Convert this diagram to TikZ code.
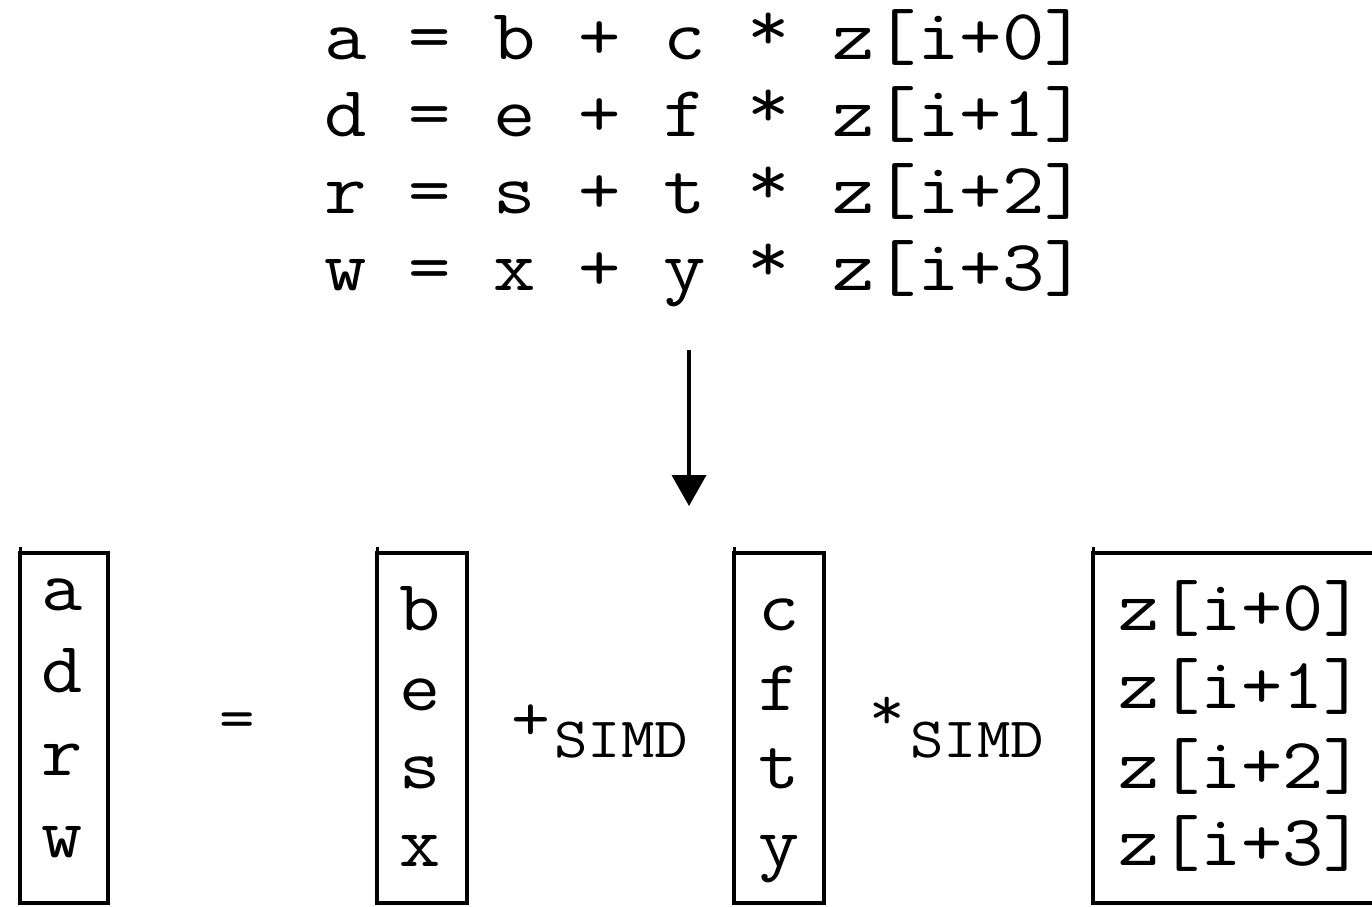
\documentclass[tikz,border=0pt]{standalone}
\usepackage{fontspec}
\usetikzlibrary{arrows.meta}

% typewriter text, slightly widened
\newcommand\widetype[2][1.11]{\scalebox{#1}[1]{#2}}
% raised asterisk, as in a Courier face
\newcommand\hiast{\raisebox{9pt}{*}}

\begin{document}
\begin{tikzpicture}[x=1pt,y=-1pt]
\tikzset{
  mono/.style={inner sep=0pt, outer sep=0pt, font=\fontsize{#1}{#1}\selectfont\ttfamily},
  mono/.default=72,
  vec/.style={draw, line width=4pt, inner sep=0pt, outer sep=0pt,
              minimum width=90pt, minimum height=350pt},
  tick/.style={line width=3pt},
  flow/.style={line width=4pt, -{Triangle[width=34pt,length=31pt]}},
}
\path[use as bounding box, fill=white] (0,0) rectangle (1372,906);

% scalar statements
\node[mono, anchor=base west] (row1) at (324,59)  {\widetype[1.143]{a = b + c \hiast{} z[i+0]}};
\node[mono, anchor=base west] (row2) at (324,136) {\widetype[1.143]{d = e + f \hiast{} z[i+1]}};
\node[mono, anchor=base west] (row3) at (324,213) {\widetype[1.143]{r = s + t \hiast{} z[i+2]}};
\node[mono, anchor=base west] (row4) at (324,290) {\widetype[1.143]{w = x + y \hiast{} z[i+3]}};

% transformation arrow
\coordinate (arrowfrom) at (689,350);
\coordinate (arrowto) at (689,506);
\draw[flow] (arrowfrom) -- (arrowto);

% vector registers
\node[vec, minimum width=88pt] (vecA) at (64,728) {};
\node[vec] (vecB) at (422,728) {};
\node[vec] (vecC) at (779,728) {};
\node[vec, minimum width=320pt, anchor=north west] (vecZ) at (1093,553) {};
\foreach \v in {vecA,vecB,vecC,vecZ}
  \draw[tick] (\v.north west) -- ++(0,-6);

% register contents
\node[mono, anchor=base] (a) at (62,610) {\widetype{a}};
\node[mono, anchor=base] (d) at (62,692) {\widetype{d}};
\node[mono, anchor=base] (r) at (62,775) {\widetype{r}};
\node[mono, anchor=base] (w) at (62,857) {\widetype{w}};

\node[mono, anchor=base] (b) at (420,630) {\widetype{b}};
\node[mono, anchor=base] (e) at (420,710) {\widetype{e}};
\node[mono, anchor=base] (s) at (420,788) {\widetype{s}};
\node[mono, anchor=base] (x) at (420,866) {\widetype{x}};

\node[mono, anchor=base] (c) at (779,630) {\widetype{c}};
\node[mono, anchor=base] (f) at (779,710) {\widetype{f}};
\node[mono, anchor=base] (t) at (779,788) {\widetype{t}};
\node[mono, anchor=base] (y) at (779,866) {\widetype{y}};

\node[mono, anchor=base west] (z0) at (1118,630) {\widetype{z[i+0]}};
\node[mono, anchor=base west] (z1) at (1118,708) {\widetype{z[i+1]}};
\node[mono, anchor=base west] (z2) at (1118,788) {\widetype{z[i+2]}};
\node[mono, anchor=base west] (z3) at (1118,865) {\widetype{z[i+3]}};

% operators
\node[mono=62, anchor=base] (eq) at (237,738) {\widetype{=}};
\node[mono=68, anchor=base] (plusop) at (531,740) {\widetype{+}};
\node[mono=57, anchor=base] (plussimd) at (621,757) {\widetype[1.14]{SIMD}};
\node[mono=62, anchor=base] (timesop) at (887,729) {\widetype{*}};
\node[mono=57, anchor=base] (timessimd) at (977,757) {\widetype[1.14]{SIMD}};
\end{tikzpicture}
\end{document}
